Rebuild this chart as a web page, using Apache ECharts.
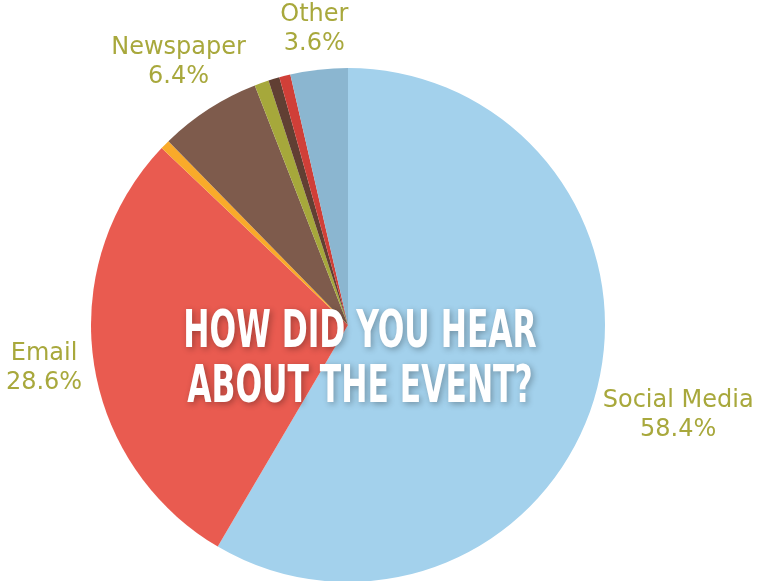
<!DOCTYPE html>
<html><head><meta charset="utf-8">
<script src="https://cdn.jsdelivr.net/npm/echarts@6/dist/echarts.min.js"></script>
<style>html,body{margin:0;padding:0;background:#fff}#c{width:765px;height:581px}</style>
</head><body><div id="c"></div>
<script>
const categories = ['Social Media', 'Email', 'Flyer', 'Newspaper', 'Poster', 'Radio', 'Website', 'Other'];
const values = [58.4, 28.6, 0.6, 6.4, 0.9, 0.7, 0.7, 3.6];
const colors = ['#A3D1EC', '#E95B50', '#F9AA2A', '#7E5B4C', '#A6A83B', '#613F33', '#D03F38', '#8BB6D0'];
const labeled = [true, true, false, true, false, false, false, true];
const titleLines = ['HOW DID YOU HEAR', 'ABOUT THE EVENT?'];

const CX = 348, CY = 325, R = 257, GAP = 12;
const total = values.reduce((a, b) => a + b, 0);
const mids = [];
let acc = 0;
values.forEach(v => { mids.push((acc + v / 2) / total * 2 * Math.PI); acc += v; });

const chart = echarts.init(document.getElementById('c'));
chart.setOption({
  animation: false,
  series: [{
    type: 'pie',
    center: [CX, CY],
    radius: R,
    startAngle: 90,
    clockwise: true,
    data: categories.map((n, i) => ({
      name: n, value: values[i],
      itemStyle: { color: colors[i] },
      label: { show: labeled[i] }
    })),
    label: {
      show: true,
      position: 'outside',
      formatter: p => p.name + '\n' + p.value.toFixed(1) + '%',
      color: '#A8A83C',
      fontFamily: 'DejaVu Sans',
      fontSize: 24,
      lineHeight: 29,
      align: 'center',
      overflow: 'none'
    },
    labelLine: { show: false },
    emphasis: { disabled: true },
    labelLayout: function (p) {
      const a = mids[p.dataIndex];
      const sx = Math.sin(a), sy = -Math.cos(a);
      const w = p.labelRect.width, h = p.labelRect.height;
      const ext = Math.hypot(sx * w / 2, sy * h / 2);
      const d = R + GAP + ext;
      return { x: CX + sx * d, y: CY + sy * d, align: 'center', verticalAlign: 'middle' };
    }
  }],
  graphic: titleLines.map((t, i) => ({
    type: 'text',
    x: 360,
    y: 333 + i * 55,
    scaleX: 0.67,
    z: 100,
    style: {
      text: t,
      font: 'bold 52px "DejaVu Sans Condensed", sans-serif',
      fill: '#ffffff',
      align: 'center',
      verticalAlign: 'middle',
      textShadowColor: 'rgba(0,0,0,0.3)',
      textShadowBlur: 6,
      textShadowOffsetX: 2,
      textShadowOffsetY: 2
    }
  }))
});
</script>
</body></html>
